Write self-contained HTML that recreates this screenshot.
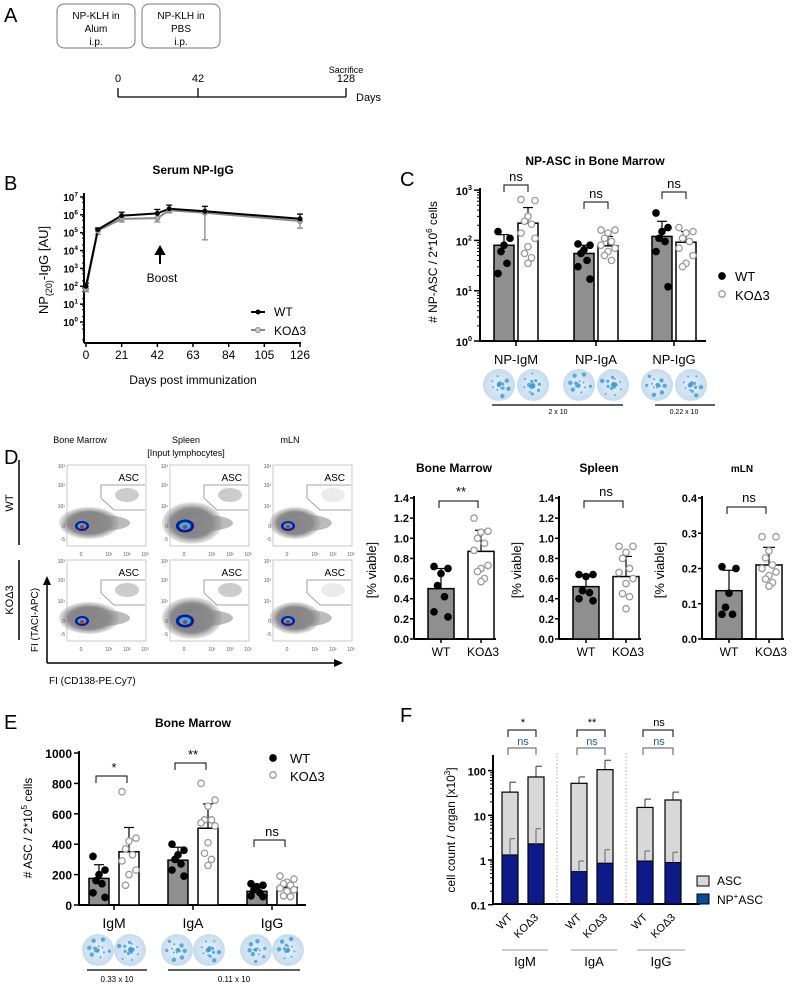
<!DOCTYPE html>
<html><head><meta charset="utf-8"><style>
html,body{margin:0;padding:0;background:#fff;}
svg{display:block;font-family:"Liberation Sans",sans-serif;}
</style></head>
<body>
<svg id="fig" width="798" height="984" viewBox="0 0 798 984" xmlns="http://www.w3.org/2000/svg">
<defs>
<radialGradient id="blob" cx="50%" cy="50%" r="50%"><stop offset="0" stop-color="#777"/><stop offset="0.7" stop-color="#8a8a8a"/><stop offset="1" stop-color="#aaa" stop-opacity="0.3"/></radialGradient>
<radialGradient id="plate" cx="50%" cy="50%" r="50%"><stop offset="0" stop-color="#e6f0f8"/><stop offset="1" stop-color="#c5dcee"/></radialGradient>
</defs>
</svg>
<script>
// ---------- DATA ----------
const bDays=[0,7,21,42,49,70,126];
const bWT=[100,1.5e5,9e5,1.2e6,2.2e6,1.6e6,6e5];
const bKO=[70,1.3e5,6e5,6.5e5,1.8e6,1.3e6,4.5e5];
const bWTHi=[150,1.8e5,1.4e6,2e6,3.5e6,3e6,1.1e6];
const bKOLo=[50,8e4,4e5,4e5,1.3e6,4e4,1.8e5];
const bXTicks=[0,21,42,63,84,105,126];
const bYTicks=[0,1,2,3,4,5,6,7];

const cCats=["NP-IgM","NP-IgA","NP-IgG"];
const cWT=[80,55,120];
const cKO=[220,78,92];
const cWTErr=[130,80,240];
const cKOErr=[450,120,150];
const cWTPts=[[150,110,80,60,35,22],[85,80,65,55,40,30,17],[350,180,150,110,95,60,12]];
const cKOPts=[[650,620,300,240,210,140,110,75,55,45,35],[160,160,140,110,95,80,70,60,50,40],[180,150,140,110,95,70,50,35,30]];
const cSig=["ns","ns","ns"];

const dTitles=["Bone Marrow","Spleen","mLN"];
const dWT=[0.50,0.52,0.137];
const dKO=[0.87,0.62,0.21];
const dWTErr=[0.70,0.64,0.195];
const dKOErr=[1.08,0.82,0.26];
const dWTPts=[[0.72,0.70,0.65,0.53,0.42,0.27,0.22],[0.64,0.64,0.62,0.48,0.46,0.40,0.38],[0.205,0.2,0.13,0.09,0.07,0.07]];
const dKOPts=[[1.2,1.07,1.06,1.0,0.95,0.88,0.73,0.70,0.67,0.6,0.57],[0.92,0.92,0.86,0.8,0.7,0.66,0.6,0.55,0.45,0.42,0.3],[0.29,0.29,0.25,0.23,0.21,0.2,0.19,0.18,0.17,0.16,0.15]];
const dSig=["**","ns","ns"];
const dMax=[1.4,1.4,0.4];
const dTicks=[["0.0","0.2","0.4","0.6","0.8","1.0","1.2","1.4"],["0.0","0.2","0.4","0.6","0.8","1.0","1.2","1.4"],["0.0","0.1","0.2","0.3","0.4"]];

const eCats=["IgM","IgA","IgG"];
const eWT=[175,295,90];
const eKO=[350,505,115];
const eWTErr=[265,380,125];
const eKOErr=[510,665,150];
const eWTPts=[[320,230,200,160,140,80,50],[400,360,330,300,270,230,190],[140,130,120,100,80,60,55]];
const eKOPts=[[745,440,420,370,330,290,230,200,130],[800,690,650,560,560,540,520,410,340,300,260],[190,170,150,140,130,110,100,90,60,55]];
const eSig=["*","**","ns"];
const eTicks=[0,200,400,600,800,1000];

const fCats=["IgM","IgA","IgG"];
const fASC=[[33,72],[52,105],[15,22]];
const fASCHi=[[55,125],[72,170],[23,33]];
const fNP=[[1.3,2.3],[0.55,0.85],[0.95,0.88]];
const fNPHi=[[3,5],[0.95,1.7],[1.6,1.5]];
const fSig=["*","**","ns"];
const fTicks=[0.1,1,10,100];
const fTickLabels=["0.1","1","10","100"];

// ---------- HELPERS ----------
const NS="http://www.w3.org/2000/svg";
const S=document.getElementById('fig');
function mk(tag,a,name,parent){
  const e=document.createElementNS(NS,tag);
  for(const k in a) e.setAttribute(k,a[k]);
  
  
  (parent||S).appendChild(e);
  return e;
}
function T(x,y,str,size,name,o){
  o=o||{};
  const a={x:x,y:y,'font-size':size,fill:o.fill||'#000','text-anchor':o.anchor||'start'};
  if(o.bold)a['font-weight']='bold';
  if(o.rot!==undefined)a.transform='rotate('+o.rot+' '+x+' '+y+')';
  const e=mk('text',a,name);
  e.textContent=str;
  return e;
}
function sup(x,y,base,s,size,name,anchor){
  const e=mk('text',{x:x,y:y,'font-size':size,'text-anchor':anchor||'end','font-weight':'bold'},name);
  const t1=mk('tspan',{},name+'-base',e); t1.textContent=base;
  const t2=mk('tspan',{dy:-size*0.45,'font-size':size*0.65},name+'-exp',e); t2.textContent=s;
  return e;
}
function L(x1,y1,x2,y2,name,w,c){return mk('line',{x1:x1,y1:y1,x2:x2,y2:y2,stroke:c||'#000','stroke-width':w||1},name);}
function bracket(x1,x2,y,name,c){mk('path',{d:`M${x1} ${y+7}V${y}H${x2}V${y+7}`,fill:'none',stroke:c||'#000','stroke-width':1},name);}
function dot(x,y,filled,name){mk('circle',{cx:x,cy:y,r:3.2,fill:filled?'#000':'#fff',stroke:filled?'#000':'#9a9a9a','stroke-width':1.3},name);}
const JIT=[-0.5,0.5,0,-0.25,0.25,-0.5,0.5,0,-0.25,0.25,0];
function jit(i,n,w){return JIT[i%JIT.length]*w;}
function plate(cx,cy,r,seed,name){
  mk('circle',{cx:cx,cy:cy,r:r,fill:'url(#plate)'},name);
  for(let i=0;i<14;i++){
    const a=(i*2.39+seed)%6.283, rr=r*0.8*(((i*37+seed*13)%10)/10);
    mk('circle',{cx:cx+Math.cos(a)*rr,cy:cy+Math.sin(a)*rr,r:1+(i%3)*0.6,fill:'#3a9ad4','fill-opacity':0.8},name+'-spot');
  }
}

// ---------- PANEL A ----------
T(4,22,"A",20,"panel-a-label");
mk('rect',{x:57,y:4,width:78,height:44,rx:7,fill:'#fff',stroke:'#777'},"alum-box");
T(96,19,"NP-KLH in",10,"alum-box-line1",{anchor:'middle'});
T(96,32,"Alum",10,"alum-box-line2",{anchor:'middle'});
T(96,45,"i.p.",10,"alum-box-line3",{anchor:'middle'});
mk('rect',{x:142,y:4,width:78,height:44,rx:7,fill:'#fff',stroke:'#777'},"pbs-box");
T(181,19,"NP-KLH in",10,"pbs-box-line1",{anchor:'middle'});
T(181,32,"PBS",10,"pbs-box-line2",{anchor:'middle'});
T(181,45,"i.p.",10,"pbs-box-line3",{anchor:'middle'});
T(346,73,"Sacrifice",9,"sacrifice-label",{anchor:'middle'});
L(118,97,346,97,"timeline-axis",1.3);
[[118,"0"],[198,"42"],[346,"128"]].forEach(p=>{L(p[0],88,p[0],97,"timeline-tick",1.3);T(p[0],82,p[1],11,"timeline-label",{anchor:'middle'});});
T(356,101,"Days",11,"timeline-unit");

// ---------- PANEL B ----------
T(4,190,"B",20,"panel-b-label");
T(193,174,"Serum NP-IgG",12,"b-title",{bold:true,anchor:'middle'});
const bx=d=>86+d*(300-86)/126;
const by=v=>322-Math.log10(v)*17.86;
L(84,193,84,343,"b-y-axis",2);
L(84,343,301,343,"b-x-axis",2);
bYTicks.forEach(k=>{L(80,by(Math.pow(10,k)),84,by(Math.pow(10,k)),"b-y-tick",1.5);sup(78,by(Math.pow(10,k))+4,"10",String(k),10,"b-y-tick-label");
  for(let m=2;m<10;m+=3){const v=Math.pow(10,k)*m; if(by(v)>193)L(82,by(v),84,by(v),"b-y-minor",1);}});
for(let v=0.1;v<1;v+=0.3)L(82,by(v),84,by(v),"b-y-minor",1);
bXTicks.forEach(d=>{L(bx(d),343,bx(d),347,"b-x-tick",1.5);T(bx(d),359,String(d),12,"b-x-tick-label",{anchor:'middle'});});
T(193,384,"Days post immunization",12,"b-x-title",{anchor:'middle'});
(function(){const e=mk('text',{x:48,y:270,'font-size':13,'text-anchor':'middle',transform:'rotate(-90 48 270)'},"b-y-title");
 const a=mk('tspan',{},"b-y-title-a",e);a.textContent="NP";
 const b=mk('tspan',{dy:4,'font-size':9},"b-y-title-sub",e);b.textContent="(20)";
 const c=mk('tspan',{dy:-4},"b-y-title-b",e);c.textContent="-IgG [AU]";})();
bDays.forEach((d,i)=>{L(bx(d),by(bKO[i]),bx(d),by(bKOLo[i]),"b-ko-err",1.3,'#888');L(bx(d)-3,by(bKOLo[i]),bx(d)+3,by(bKOLo[i]),"b-ko-err-cap",1.3,'#888');
 L(bx(d),by(bWT[i]),bx(d),by(bWTHi[i]),"b-wt-err",1.3);L(bx(d)-3,by(bWTHi[i]),bx(d)+3,by(bWTHi[i]),"b-wt-err-cap",1.3);});
mk('polyline',{points:bDays.map((d,i)=>bx(d)+','+by(bKO[i])).join(' '),fill:'none',stroke:'#888','stroke-width':2},"b-ko-line");
mk('polyline',{points:bDays.map((d,i)=>bx(d)+','+by(bWT[i])).join(' '),fill:'none',stroke:'#000','stroke-width':2},"b-wt-line");
bDays.forEach((d,i)=>{mk('circle',{cx:bx(d),cy:by(bKO[i]),r:2.5,fill:'#aaa',stroke:'#888'},"b-ko-point");mk('circle',{cx:bx(d),cy:by(bWT[i]),r:2.5,fill:'#000'},"b-wt-point");});
mk('path',{d:'M160 264V252M156 254L160 247L164 254Z',stroke:'#000','stroke-width':2,fill:'#000'},"boost-arrow");
T(162,282,"Boost",12,"boost-label",{anchor:'middle'});
L(251,312,265,312,"b-legend-wt-line",2);mk('circle',{cx:258,cy:312,r:2.5,fill:'#000'},"b-legend-wt-marker");T(274,316,"WT",12,"b-legend-wt");
L(251,330,265,330,"b-legend-ko-line",2,'#888');mk('circle',{cx:258,cy:330,r:2.5,fill:'#ccc',stroke:'#888'},"b-legend-ko-marker");T(274,335,"KOΔ3",12,"b-legend-ko");

// ---------- PANEL C ----------
T(400,186,"C",20,"panel-c-label");
T(595,165,"NP-ASC in Bone Marrow",12,"c-title",{bold:true,anchor:'middle'});
const cy=v=>341-Math.log10(v)*50.3;
L(480,188,480,342,"c-y-axis",2);L(480,341,706,341,"c-x-axis",2);
[0,1,2,3].forEach(k=>{L(474,cy(Math.pow(10,k)),480,cy(Math.pow(10,k)),"c-y-tick",1.5);sup(472,cy(Math.pow(10,k))+5,"10",String(k),11,"c-y-tick-label");
 if(k<3)for(let m=2;m<10;m++)L(477,cy(Math.pow(10,k)*m),480,cy(Math.pow(10,k)*m),"c-y-minor",1);});
(function(){const e=mk('text',{x:437,y:262,'font-size':12,'text-anchor':'middle',transform:'rotate(-90 437 262)'},"c-y-title");
 const a=mk('tspan',{},"c-y-title-a",e);a.textContent="# NP-ASC / 2*10";const b=mk('tspan',{dy:-5,'font-size':8},"c-y-title-exp",e);b.textContent="6";const c=mk('tspan',{dy:5},"c-y-title-b",e);c.textContent=" cells";})();
const cCenters=[516,596,674];
cCats.forEach((c,i)=>{
 const xw=cCenters[i]-12, xk=cCenters[i]+12;
 L(cCenters[i],341,cCenters[i],346,"c-x-tick",1.5);
 mk('rect',{x:xw-10,y:cy(cWT[i]),width:20,height:341-cy(cWT[i]),fill:'#8f8f8f',stroke:'#000','stroke-width':1.5},"c-bar-wt");
 mk('rect',{x:xk-10,y:cy(cKO[i]),width:20,height:341-cy(cKO[i]),fill:'#fff',stroke:'#000','stroke-width':1.5},"c-bar-ko");
 L(xw,cy(cWT[i]),xw,cy(cWTErr[i]),"c-err-wt",1.2);L(xw-5,cy(cWTErr[i]),xw+5,cy(cWTErr[i]),"c-err-cap",1.2);
 L(xk,cy(cKO[i]),xk,cy(cKOErr[i]),"c-err-ko",1.2);L(xk-5,cy(cKOErr[i]),xk+5,cy(cKOErr[i]),"c-err-cap",1.2);
 cWTPts[i].forEach((v,j)=>dot(xw+jit(j,cWTPts[i].length,12),cy(v),true,"c-point-wt"));
 cKOPts[i].forEach((v,j)=>dot(xk+jit(j,cKOPts[i].length,14),cy(v),false,"c-point-ko"));
 bracket(xw,xk,i==0?185:i==1?202:192,"c-sig-bracket");
 T(cCenters[i],i==0?181:i==1?198:188,cSig[i],13,"c-sig-label",{anchor:'middle'});
 T(cCenters[i],364,c,13,"c-x-label",{anchor:'middle'});
 plate(cCenters[i]-17,385,16,i*3+1,"c-plate-wt");plate(cCenters[i]+17,385,16,i*3+2,"c-plate-ko");
});
L(492,405,623,405,"c-scale-line",1.2);T(558,414,"2 x 10",7,"c-scale-label",{anchor:'middle'});
L(655,405,715,405,"c-scale-line2",1.2);T(684,414,"0.22 x 10",7,"c-scale-label2",{anchor:'middle'});
dot(722,276,true,"c-legend-wt-marker");T(735,281,"WT",13,"c-legend-wt");
dot(722,294,false,"c-legend-ko-marker");T(735,300,"KOΔ3",13,"c-legend-ko");

// ---------- PANEL D FLOW ----------
T(4,464,"D",20,"panel-d-label");
T(80,443,"Bone Marrow",9,"d-col-bm",{anchor:'middle'});
T(186,443,"Spleen",9,"d-col-spleen",{anchor:'middle'});
T(186,456,"[Input lymphocytes]",9,"d-col-input",{anchor:'middle'});
T(290,443,"mLN",9,"d-col-mln",{anchor:'middle'});
L(19,460,19,545,"d-row-wt-line",1.5);T(13,503,"WT",11,"d-row-wt",{anchor:'middle',rot:-90});
L(19,560,19,640,"d-row-ko-line",1.5);T(13,600,"KOΔ3",11,"d-row-ko",{anchor:'middle',rot:-90});
const px=[67,170,273], py=[465,560];
py.forEach((y0,r)=>px.forEach((x0,c)=>{
 mk('rect',{x:x0,y:y0,width:79,height:81,fill:'#fff',stroke:'#bbb','stroke-width':0.8},"flow-plot");
 const big=c==1?1.3:1, blob=c==2?0.85:1;
 mk('ellipse',{cx:x0+22,cy:y0+58,rx:30*blob,ry:16*big,fill:'url(#blob)'},"flow-main-population");
 mk('ellipse',{cx:x0+35,cy:y0+58,rx:28*blob,ry:8,fill:'#8e8e8e','fill-opacity':0.6},"flow-tail");
 mk('ellipse',{cx:x0+60,cy:y0+30,rx:12,ry:7,fill:'#999','fill-opacity':c==2?0.2:0.5},"flow-asc-population");
 mk('ellipse',{cx:x0+15,cy:y0+61,rx:7*big,ry:5*big,fill:'#0a1a9a'},"flow-density-outer");
 mk('ellipse',{cx:x0+15,cy:y0+61,rx:4.5*big,ry:3*big,fill:'#2ab5e0'},"flow-density-mid");
 mk('circle',{cx:x0+15,cy:y0+62,r:2,fill:'#e52020'},"flow-density-core");
 mk('path',{d:`M${x0+78} ${y0+20}H${x0+34}V${y0+33}L${x0+47} ${y0+45}H${x0+78}`,fill:'none',stroke:'#888','stroke-width':0.8},"asc-gate");
 T(x0+72,y0+16,"ASC",10,"asc-gate-label",{anchor:'end'});
 ["10³","10²","10¹","0","-5"].forEach((s,k)=>T(x0-2,[y0+3,y0+22,y0+43,y0+63,y0+76][k],s,5,"flow-y-tick",{anchor:'end',fill:'#555'}));
 ["0","10¹","10²","10³"].forEach((s,k)=>T(x0+[14,42,60,78][k],y0+91,s,5,"flow-x-tick",{anchor:'middle',fill:'#555'}));
}));
mk('path',{d:'M47 663V583',stroke:'#000','stroke-width':1.5,fill:'none'},"d-y-arrow");
mk('path',{d:'M43 585L47 576L51 585Z',fill:'#000'},"d-y-arrowhead");
mk('path',{d:'M47 663H336',stroke:'#000','stroke-width':1.5,fill:'none'},"d-x-arrow");
mk('path',{d:'M334 659L343 663L334 667Z',fill:'#000'},"d-x-arrowhead");
T(38,620,"FI (TACI-APC)",10,"d-y-axis-title",{anchor:'middle',rot:-90});
T(49,684,"FI (CD138-PE.Cy7)",10,"d-x-axis-title");

// ---------- PANEL D BARS ----------
const dAx=[414,559,702];
dTitles.forEach((t,i)=>{
 const ax=dAx[i], y0=639, yt=498;
 const sy=v=>y0-v*(y0-yt)/dMax[i];
 T(ax+40,472,t,i==2?10:12,"d-chart-title",{bold:true,anchor:'middle'});
 L(ax,yt-2,ax,y0,"d-y-axis",2);L(ax,y0,ax+82,y0,"d-x-axis",2);
 dTicks[i].forEach((s,k)=>{const v=parseFloat(s);L(ax-4,sy(v),ax,sy(v),"d-y-tick",1.5);T(ax-5,sy(v)+4,s,11,"d-y-tick-label",{bold:true,anchor:'end'});});
 T(ax-38,570,"[% viable]",13,"d-y-title",{anchor:'middle',rot:-90});
 const xw=ax+27,xk=ax+67;
 mk('rect',{x:xw-13,y:sy(dWT[i]),width:26,height:y0-sy(dWT[i]),fill:'#8f8f8f',stroke:'#000','stroke-width':1.5},"d-bar-wt");
 mk('rect',{x:xk-13,y:sy(dKO[i]),width:26,height:y0-sy(dKO[i]),fill:'#fff',stroke:'#000','stroke-width':1.5},"d-bar-ko");
 L(xw,sy(dWT[i]),xw,sy(dWTErr[i]),"d-err-wt",1.2);L(xw-6,sy(dWTErr[i]),xw+6,sy(dWTErr[i]),"d-err-cap",1.2);
 L(xk,sy(dKO[i]),xk,sy(dKOErr[i]),"d-err-ko",1.2);L(xk-6,sy(dKOErr[i]),xk+6,sy(dKOErr[i]),"d-err-cap",1.2);
 dWTPts[i].forEach((v,j)=>dot(xw+jit(j,dWTPts[i].length,14),sy(v),true,"d-point-wt"));
 dKOPts[i].forEach((v,j)=>dot(xk+jit(j,dKOPts[i].length,14),sy(v),false,"d-point-ko"));
 bracket(xw-2,xk-3,i==2?507:501,"d-sig-bracket");
 T((xw+xk)/2,i==2?502:496,dSig[i],13,"d-sig-label",{anchor:'middle'});
 L(xw,y0,xw,y0+4,"d-x-tick",1.5);L(xk,y0,xk,y0+4,"d-x-tick",1.5);
 T(xw,656,"WT",12,"d-x-label-wt",{anchor:'middle'});T(xk+2,656,"KOΔ3",12,"d-x-label-ko",{anchor:'middle'});
});

// ---------- PANEL E ----------
T(4,729,"E",20,"panel-e-label");
T(193,727,"Bone Marrow",12,"e-title",{bold:true,anchor:'middle'});
const ey=v=>905-v*0.152;
L(79,751,79,905,"e-y-axis",2);L(79,905,306,905,"e-x-axis",2);
eTicks.forEach(v=>{L(74,ey(v),79,ey(v),"e-y-tick",1.5);T(72,ey(v)+5,String(v),12,"e-y-tick-label",{bold:true,anchor:'end'});});
(function(){const e=mk('text',{x:32,y:828,'font-size':12,'text-anchor':'middle',transform:'rotate(-90 32 828)'},"e-y-title");
 const a=mk('tspan',{},"e-y-title-a",e);a.textContent="# ASC / 2*10";const b=mk('tspan',{dy:-5,'font-size':8},"e-y-title-exp",e);b.textContent="5";const c=mk('tspan',{dy:5},"e-y-title-b",e);c.textContent=" cells";})();
const eCenters=[114,193,272];
eCats.forEach((c,i)=>{
 const xw=eCenters[i]-15,xk=eCenters[i]+15;
 L(eCenters[i],905,eCenters[i],910,"e-x-tick",1.5);
 mk('rect',{x:xw-10,y:ey(eWT[i]),width:20,height:905-ey(eWT[i]),fill:'#8f8f8f',stroke:'#000','stroke-width':1.5},"e-bar-wt");
 mk('rect',{x:xk-10,y:ey(eKO[i]),width:20,height:905-ey(eKO[i]),fill:'#fff',stroke:'#000','stroke-width':1.5},"e-bar-ko");
 L(xw,ey(eWT[i]),xw,ey(eWTErr[i]),"e-err-wt",1.2);L(xw-5,ey(eWTErr[i]),xw+5,ey(eWTErr[i]),"e-err-cap",1.2);
 L(xk,ey(eKO[i]),xk,ey(eKOErr[i]),"e-err-ko",1.2);L(xk-5,ey(eKOErr[i]),xk+5,ey(eKOErr[i]),"e-err-cap",1.2);
 eWTPts[i].forEach((v,j)=>dot(xw+jit(j,eWTPts[i].length,12),ey(v),true,"e-point-wt"));
 eKOPts[i].forEach((v,j)=>dot(xk+jit(j,eKOPts[i].length,14),ey(v),false,"e-point-ko"));
 const by2=[776,763,840][i];
 bracket(xw-3,xk-2,by2,"e-sig-bracket");
 T(eCenters[i],by2-4,eSig[i],13,"e-sig-label",{anchor:'middle'});
 T(eCenters[i],928,c,14,"e-x-label",{anchor:'middle'});
 plate(eCenters[i]-16,950,16,i*3+4,"e-plate-wt");plate(eCenters[i]+16,950,16,i*3+5,"e-plate-ko");
});
L(87,970,147,970,"e-scale-line",1.2);T(117,982,"0.33 x 10",8,"e-scale-label",{anchor:'middle'});
L(168,970,300,970,"e-scale-line2",1.2);T(234,982,"0.11 x 10",8,"e-scale-label2",{anchor:'middle'});
dot(273,758,true,"e-legend-wt-marker");T(290,763,"WT",13,"e-legend-wt");
dot(273,775,false,"e-legend-ko-marker");T(290,781,"KOΔ3",13,"e-legend-ko");

// ---------- PANEL F ----------
T(400,722,"F",20,"panel-f-label");
const fy=v=>860-Math.log10(v)*44.7;
L(493,755,493,904,"f-y-axis",2);L(493,904,700,904,"f-x-axis",2);
fTicks.forEach((v,k)=>{L(488,fy(v),493,fy(v),"f-y-tick",1.5);T(486,fy(v)+5,fTickLabels[k],11,"f-y-tick-label",{bold:true,anchor:'end'});
 if(k<3)for(let m=2;m<10;m++)L(490,fy(v*m),493,fy(v*m),"f-y-minor",1);});
(function(){const e=mk('text',{x:455,y:830,'font-size':12,'text-anchor':'middle',transform:'rotate(-90 455 830)'},"f-y-title");
 const a=mk('tspan',{},"f-y-title-a",e);a.textContent="cell count / organ [x10";const b=mk('tspan',{dy:-5,'font-size':8},"f-y-title-exp",e);b.textContent="3";const c=mk('tspan',{dy:5},"f-y-title-b",e);c.textContent="]";})();
L(557,753,557,904,"f-divider",0.8,'#999').setAttribute('stroke-dasharray','1.5 2');
L(626,753,626,904,"f-divider",0.8,'#999').setAttribute('stroke-dasharray','1.5 2');
const fCenters=[[510,536],[579,605],[645,673]];
fCats.forEach((c,i)=>{
 [0,1].forEach(g=>{
  const x=fCenters[i][g];
  L(x,fy(fASC[i][g]),x,fy(fASCHi[i][g]),"f-err-asc",1.2,'#555');L(x,fy(fASCHi[i][g]),x+6,fy(fASCHi[i][g]),"f-err-cap",1.2,'#555');
  mk('rect',{x:x-8,y:fy(fASC[i][g]),width:16,height:904-fy(fASC[i][g]),fill:'#d8d8d8',stroke:'#000','stroke-width':1.2},"f-bar-asc");
  mk('rect',{x:x-8,y:fy(fNP[i][g]),width:16,height:904-fy(fNP[i][g]),fill:'#0c1a8a',stroke:'#000','stroke-width':1},"f-bar-np-asc");
  L(x,fy(fNP[i][g]),x,fy(fNPHi[i][g]),"f-err-np",1,'#666');L(x,fy(fNPHi[i][g]),x+5,fy(fNPHi[i][g]),"f-err-cap",1,'#666');
  T(x+3,918,g?"KOΔ3":"WT",11,"f-x-label",{anchor:'end',rot:-45});
 });
 const a=fCenters[i][0],b=fCenters[i][1];
 bracket(a-2,b,730,"f-sig-bracket");T((a+b)/2,726,fSig[i],11,"f-sig-label",{anchor:'middle'});
 bracket(a-2,b,748,"f-sig-bracket-np",'#555');T((a+b)/2,745,"ns",11,"f-sig-label-np",{anchor:'middle',fill:'#1f5fa8'});
 L(a-8,950,b+12,950,"f-group-line",1,'#999');T((a+b)/2+2,966,c,13,"f-group-label",{anchor:'middle'});
});
mk('rect',{x:697,y:876,width:12,height:10,fill:'#d8d8d8',stroke:'#000'},"f-legend-asc-swatch");T(717,885,"ASC",12,"f-legend-asc");
mk('rect',{x:697,y:894,width:12,height:10,fill:'#0c4a9a',stroke:'#000'},"f-legend-np-swatch");
(function(){const e=mk('text',{x:717,y:904,'font-size':12},"f-legend-np");const a=mk('tspan',{},"f-legend-np-a",e);a.textContent="NP";const b=mk('tspan',{dy:-5,'font-size':8},"f-legend-np-sup",e);b.textContent="+";const c=mk('tspan',{dy:5},"f-legend-np-b",e);c.textContent="ASC";})();
</script>
</body></html>
